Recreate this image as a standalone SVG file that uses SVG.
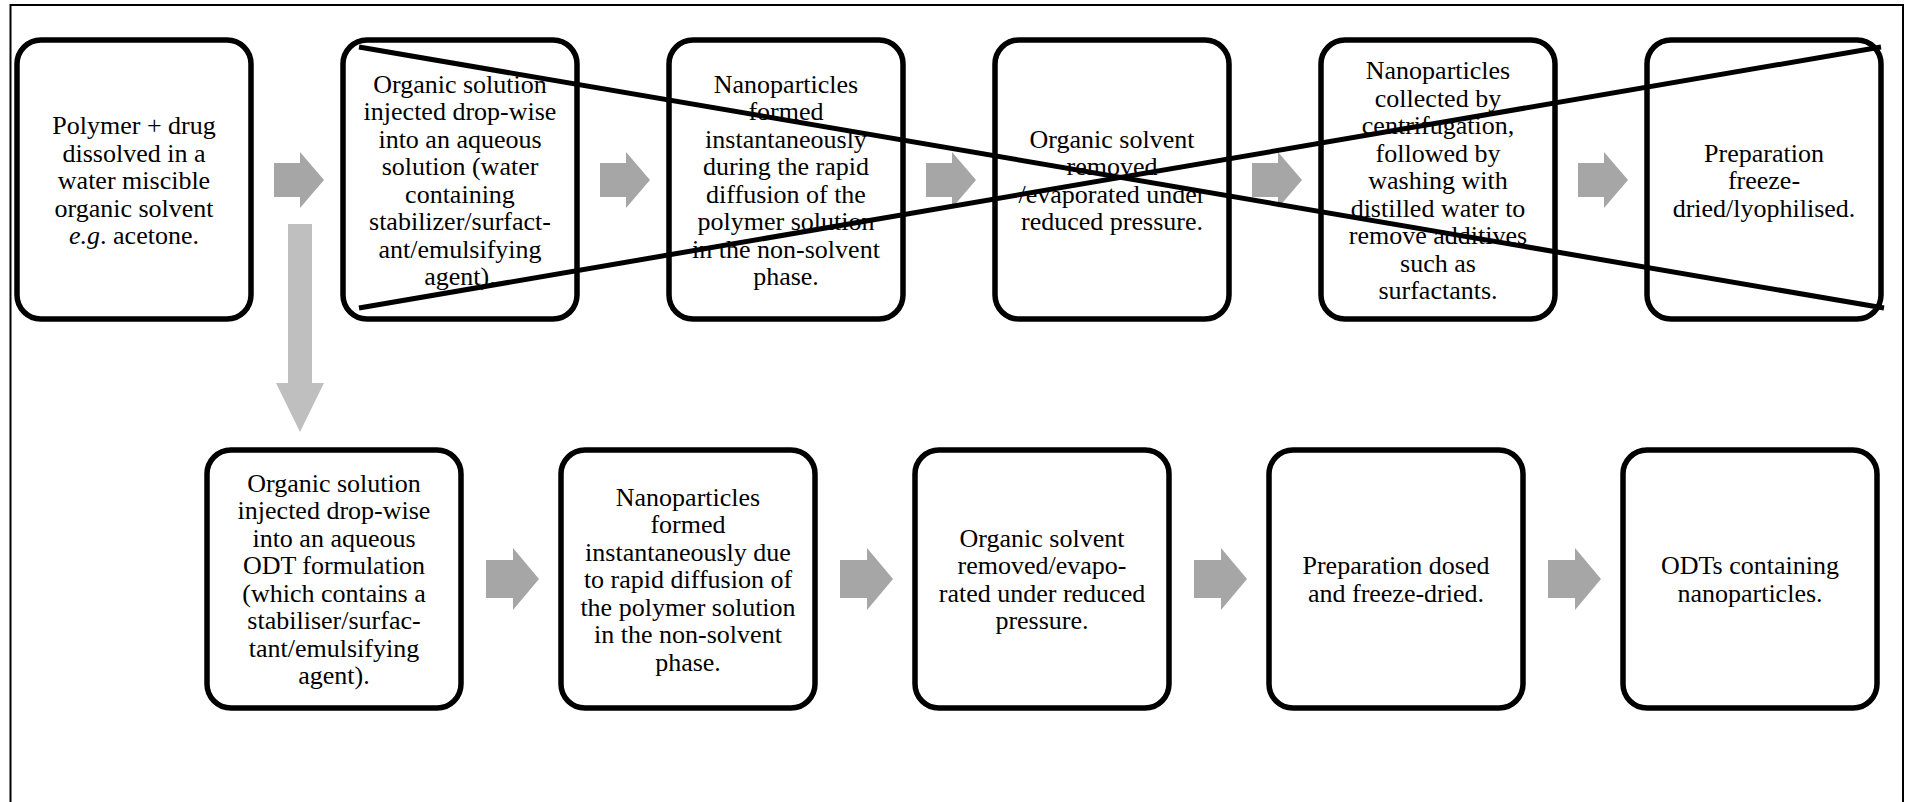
<svg xmlns="http://www.w3.org/2000/svg" width="1912" height="802" viewBox="0 0 1912 802">
<style>
.frame{fill:none;stroke:#000;stroke-width:2}
.box{fill:#fff;stroke:#000;stroke-width:5.5}
.t{font-family:"Liberation Serif","Times New Roman",serif;font-size:26px;fill:#000;text-anchor:middle}
.ha{fill:#a6a6a6}
.va{fill:#bfbfbf}
.cross{stroke:#000;stroke-width:5;stroke-linecap:butt;fill:none}
</style>
<defs>
<path id="arTop" d="M0,-17 H26 V-28 L50,0 L26,28 V17 H0 Z"/>
<path id="arBot" d="M0,-19 H27 V-31 L53,0 L27,31 V19 H0 Z"/>
</defs>
<rect width="1912" height="802" fill="#fff"/>
<rect class="frame" x="10.5" y="5" width="1892.5" height="830"/>

<g id="connectors">
<use href="#arTop" class="ha" x="274" y="180"/>
<use href="#arTop" class="ha" x="600" y="180"/>
<use href="#arTop" class="ha" x="926" y="180"/>
<use href="#arTop" class="ha" x="1252" y="180"/>
<use href="#arTop" class="ha" x="1578" y="180"/>
<path class="va" d="M288,224 H312 V383 H324 L300,432 L276,383 H288 Z"/>
<use href="#arBot" class="ha" x="486" y="579"/>
<use href="#arBot" class="ha" x="840" y="579"/>
<use href="#arBot" class="ha" x="1194" y="579"/>
<use href="#arBot" class="ha" x="1548" y="579"/>
</g>

<g id="n1">
<rect class="box" x="17" y="40" width="234" height="279" rx="24"/>
<text class="t" x="134" y="134"><tspan x="134">Polymer + drug</tspan><tspan x="134" dy="27.5">dissolved in a</tspan><tspan x="134" dy="27.5">water miscible</tspan><tspan x="134" dy="27.5">organic solvent</tspan><tspan x="134" dy="27.5"><tspan font-style="italic">e.g</tspan>. acetone.</tspan></text>
</g>
<g id="n2">
<rect class="box" x="343" y="40" width="234" height="279" rx="24"/>
<text class="t" x="460" y="92.75"><tspan x="460">Organic solution</tspan><tspan x="460" dy="27.5">injected drop-wise</tspan><tspan x="460" dy="27.5">into an aqueous</tspan><tspan x="460" dy="27.5">solution (water</tspan><tspan x="460" dy="27.5">containing</tspan><tspan x="460" dy="27.5">stabilizer/surfact-</tspan><tspan x="460" dy="27.5">ant/emulsifying</tspan><tspan x="460" dy="27.5">agent).</tspan></text>
</g>
<g id="n3">
<rect class="box" x="669" y="40" width="234" height="279" rx="24"/>
<text class="t" x="786" y="92.75"><tspan x="786">Nanoparticles</tspan><tspan x="786" dy="27.5">formed</tspan><tspan x="786" dy="27.5">instantaneously</tspan><tspan x="786" dy="27.5">during the rapid</tspan><tspan x="786" dy="27.5">diffusion of the</tspan><tspan x="786" dy="27.5">polymer solution</tspan><tspan x="786" dy="27.5">in the non-solvent</tspan><tspan x="786" dy="27.5">phase.</tspan></text>
</g>
<g id="n4">
<rect class="box" x="995" y="40" width="234" height="279" rx="24"/>
<text class="t" x="1112" y="147.75"><tspan x="1112">Organic solvent</tspan><tspan x="1112" dy="27.5">removed</tspan><tspan x="1112" dy="27.5">/evaporated under</tspan><tspan x="1112" dy="27.5">reduced pressure.</tspan></text>
</g>
<g id="n5">
<rect class="box" x="1321" y="40" width="234" height="279" rx="24"/>
<text class="t" x="1438" y="79"><tspan x="1438">Nanoparticles</tspan><tspan x="1438" dy="27.5">collected by</tspan><tspan x="1438" dy="27.5">centrifugation,</tspan><tspan x="1438" dy="27.5">followed by</tspan><tspan x="1438" dy="27.5">washing with</tspan><tspan x="1438" dy="27.5">distilled water to</tspan><tspan x="1438" dy="27.5">remove additives</tspan><tspan x="1438" dy="27.5">such as</tspan><tspan x="1438" dy="27.5">surfactants.</tspan></text>
</g>
<g id="n6">
<rect class="box" x="1647" y="40" width="234" height="279" rx="24"/>
<text class="t" x="1764" y="161.5"><tspan x="1764">Preparation</tspan><tspan x="1764" dy="27.5">freeze-</tspan><tspan x="1764" dy="27.5">dried/lyophilised.</tspan></text>
</g>

<g id="m1">
<rect class="box" x="207" y="450" width="254" height="258" rx="24"/>
<text class="t" x="334" y="491.75"><tspan x="334">Organic solution</tspan><tspan x="334" dy="27.5">injected drop-wise</tspan><tspan x="334" dy="27.5">into an aqueous</tspan><tspan x="334" dy="27.5">ODT formulation</tspan><tspan x="334" dy="27.5">(which contains a</tspan><tspan x="334" dy="27.5">stabiliser/surfac-</tspan><tspan x="334" dy="27.5">tant/emulsifying</tspan><tspan x="334" dy="27.5">agent).</tspan></text>
</g>
<g id="m2">
<rect class="box" x="561" y="450" width="254" height="258" rx="24"/>
<text class="t" x="688" y="505.5"><tspan x="688">Nanoparticles</tspan><tspan x="688" dy="27.5">formed</tspan><tspan x="688" dy="27.5">instantaneously due</tspan><tspan x="688" dy="27.5">to rapid diffusion of</tspan><tspan x="688" dy="27.5">the polymer solution</tspan><tspan x="688" dy="27.5">in the non-solvent</tspan><tspan x="688" dy="27.5">phase.</tspan></text>
</g>
<g id="m3">
<rect class="box" x="915" y="450" width="254" height="258" rx="24"/>
<text class="t" x="1042" y="546.75"><tspan x="1042">Organic solvent</tspan><tspan x="1042" dy="27.5">removed/evapo-</tspan><tspan x="1042" dy="27.5">rated under reduced</tspan><tspan x="1042" dy="27.5">pressure.</tspan></text>
</g>
<g id="m4">
<rect class="box" x="1269" y="450" width="254" height="258" rx="24"/>
<text class="t" x="1396" y="574.25"><tspan x="1396">Preparation dosed</tspan><tspan x="1396" dy="27.5">and freeze-dried.</tspan></text>
</g>
<g id="m5">
<rect class="box" x="1623" y="450" width="254" height="258" rx="24"/>
<text class="t" x="1750" y="574.25"><tspan x="1750">ODTs containing</tspan><tspan x="1750" dy="27.5">nanoparticles.</tspan></text>
</g>

<g id="strike">
<line class="cross" x1="359" y1="47" x2="1884" y2="308"/>
<line class="cross" x1="359" y1="308" x2="1881" y2="47"/>
</g>
</svg>
